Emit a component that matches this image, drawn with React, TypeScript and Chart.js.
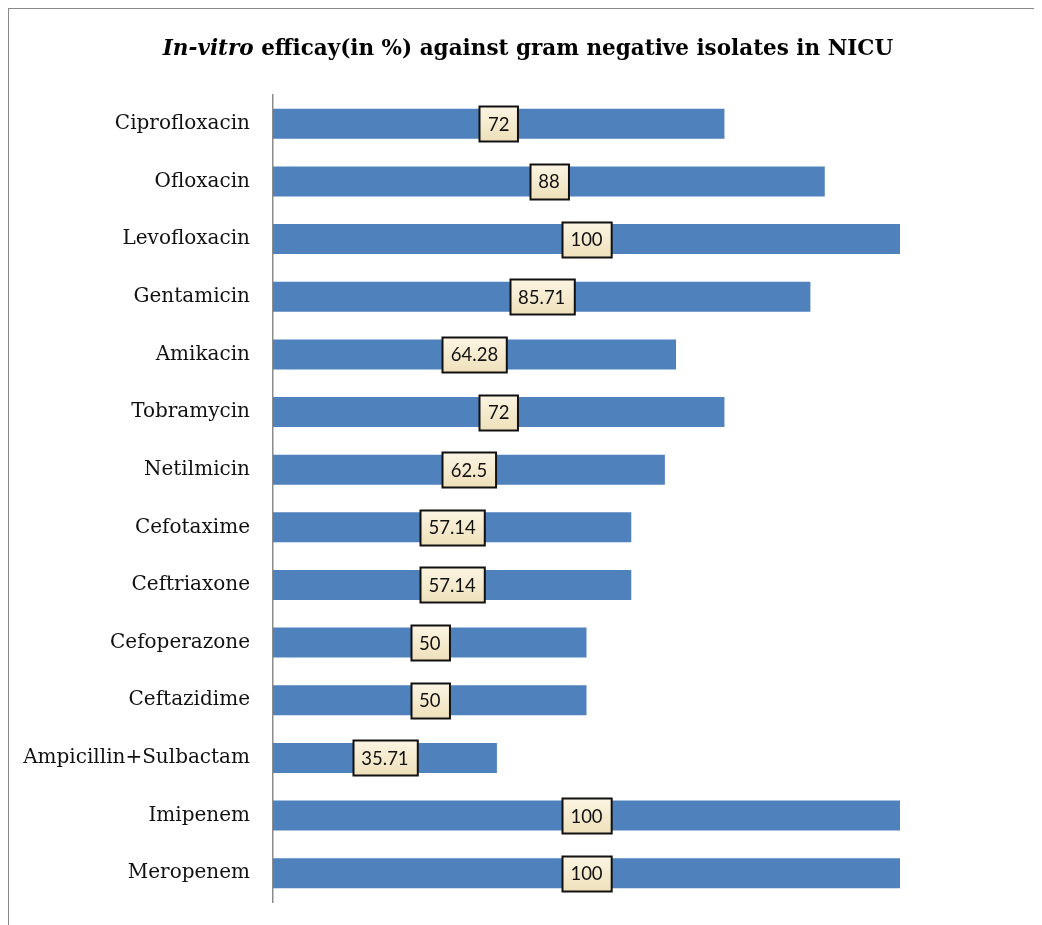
import React, { useEffect, useRef } from "react";
import { Chart, registerables } from "chart.js";

Chart.register(...registerables);

const categories = [
  "Ciprofloxacin",
  "Ofloxacin",
  "Levofloxacin",
  "Gentamicin",
  "Amikacin",
  "Tobramycin",
  "Netilmicin",
  "Cefotaxime",
  "Ceftriaxone",
  "Cefoperazone",
  "Ceftazidime",
  "Ampicillin+Sulbactam",
  "Imipenem",
  "Meropenem",
];
const efficacy = [72, 88, 100, 85.71, 64.28, 72, 62.5, 57.14, 57.14, 50, 50, 35.71, 100, 100];
const titleItalic = "In-vitro";
const titleRest = " efficay(in %) against gram negative isolates in NICU";

const labelPlugin = {
  id: "boxLabels",
  afterDatasetsDraw(chart: any) {
    const ctx = chart.ctx;
    const meta = chart.getDatasetMeta(0);
    const xs = chart.scales.x;
    ctx.save();
    ctx.font = "18.5px Lato, 'Open Sans', sans-serif";
    ctx.textAlign = "center";
    ctx.textBaseline = "middle";
    meta.data.forEach((bar: any, i: number) => {
      const v = efficacy[i];
      const txt = String(v);
      const cx = (xs.getPixelForValue(0) + bar.x) / 2;
      const cy = bar.y;
      const w = ctx.measureText(txt).width + 17;
      const h = 35;
      const x0 = Math.round(cx - w / 2) + 0.5;
      const y0 = Math.round(cy - h / 2) + 0.5;
      const g = ctx.createLinearGradient(0, y0, 0, y0 + h);
      g.addColorStop(0, "#FCF5E3");
      g.addColorStop(1, "#EEE0BA");
      ctx.fillStyle = g;
      ctx.fillRect(x0, y0, w, h);
      ctx.lineWidth = 2;
      ctx.strokeStyle = "#111";
      ctx.strokeRect(x0, y0, w, h);
      ctx.fillStyle = "#111";
      ctx.fillText(txt, cx, cy + 1);
    });
    ctx.restore();
  },
  afterDraw(chart: any) {
    const ctx = chart.ctx;
    ctx.save();
    ctx.textBaseline = "alphabetic";
    ctx.fillStyle = "#000";
    const fItal = "italic bold 21.5px 'DejaVu Serif', serif";
    const fBold = "bold 21.5px 'DejaVu Serif', serif";
    ctx.font = fItal;
    const w1 = ctx.measureText(titleItalic).width;
    ctx.font = fBold;
    const w2 = ctx.measureText(titleRest).width;
    const cx = 519;
    let x = cx - (w1 + w2) / 2;
    const y = 46;
    ctx.textAlign = "left";
    ctx.font = fItal;
    ctx.fillText(titleItalic, x, y);
    ctx.font = fBold;
    ctx.fillText(titleRest, x + w1, y);
    ctx.restore();
  },
};

export default function App() {
  const ref = useRef<HTMLCanvasElement>(null);
  useEffect(() => {
    if (!ref.current) return;
    const chart = new Chart(ref.current, {
      type: "bar",
      data: {
        labels: categories,
        datasets: [
          {
            data: efficacy,
            backgroundColor: "#4F81BD",
            borderWidth: 0,
            categoryPercentage: 1,
            barPercentage: 0.52,
          },
        ],
      },
      options: {
        indexAxis: "y",
        animation: false,
        responsive: false,
        maintainAspectRatio: false,
        layout: { padding: { top: 86, bottom: 23, right: 142, left: 0 } },
        plugins: { legend: { display: false }, tooltip: { enabled: false }, title: { display: false } },
        scales: {
          x: { display: false, min: 0, max: 100 },
          y: {
            grid: { display: false, drawTicks: false },
            border: { display: true, color: "#8c8c8c", width: 1.5 },
            ticks: {
              padding: 23,
              color: "#111",
              font: { family: "'DejaVu Serif', serif", size: 20 },
            },
            afterFit(scale: any) {
              scale.width = 264;
              scale.paddingTop = 0;
              scale.paddingBottom = 0;
            },
          },
        },
      },
      plugins: [labelPlugin],
    });
    return () => chart.destroy();
  }, []);
  return (
    <div
      style={{
        width: 1033,
        height: 916,
        borderTop: "1.5px solid #8a8a8a",
        borderLeft: "1.5px solid #8a8a8a",
        background: "#fff",
        overflow: "hidden",
      }}
    >
      <canvas ref={ref} width={1033} height={916} style={{ display: "block" }} />
    </div>
  );
}
